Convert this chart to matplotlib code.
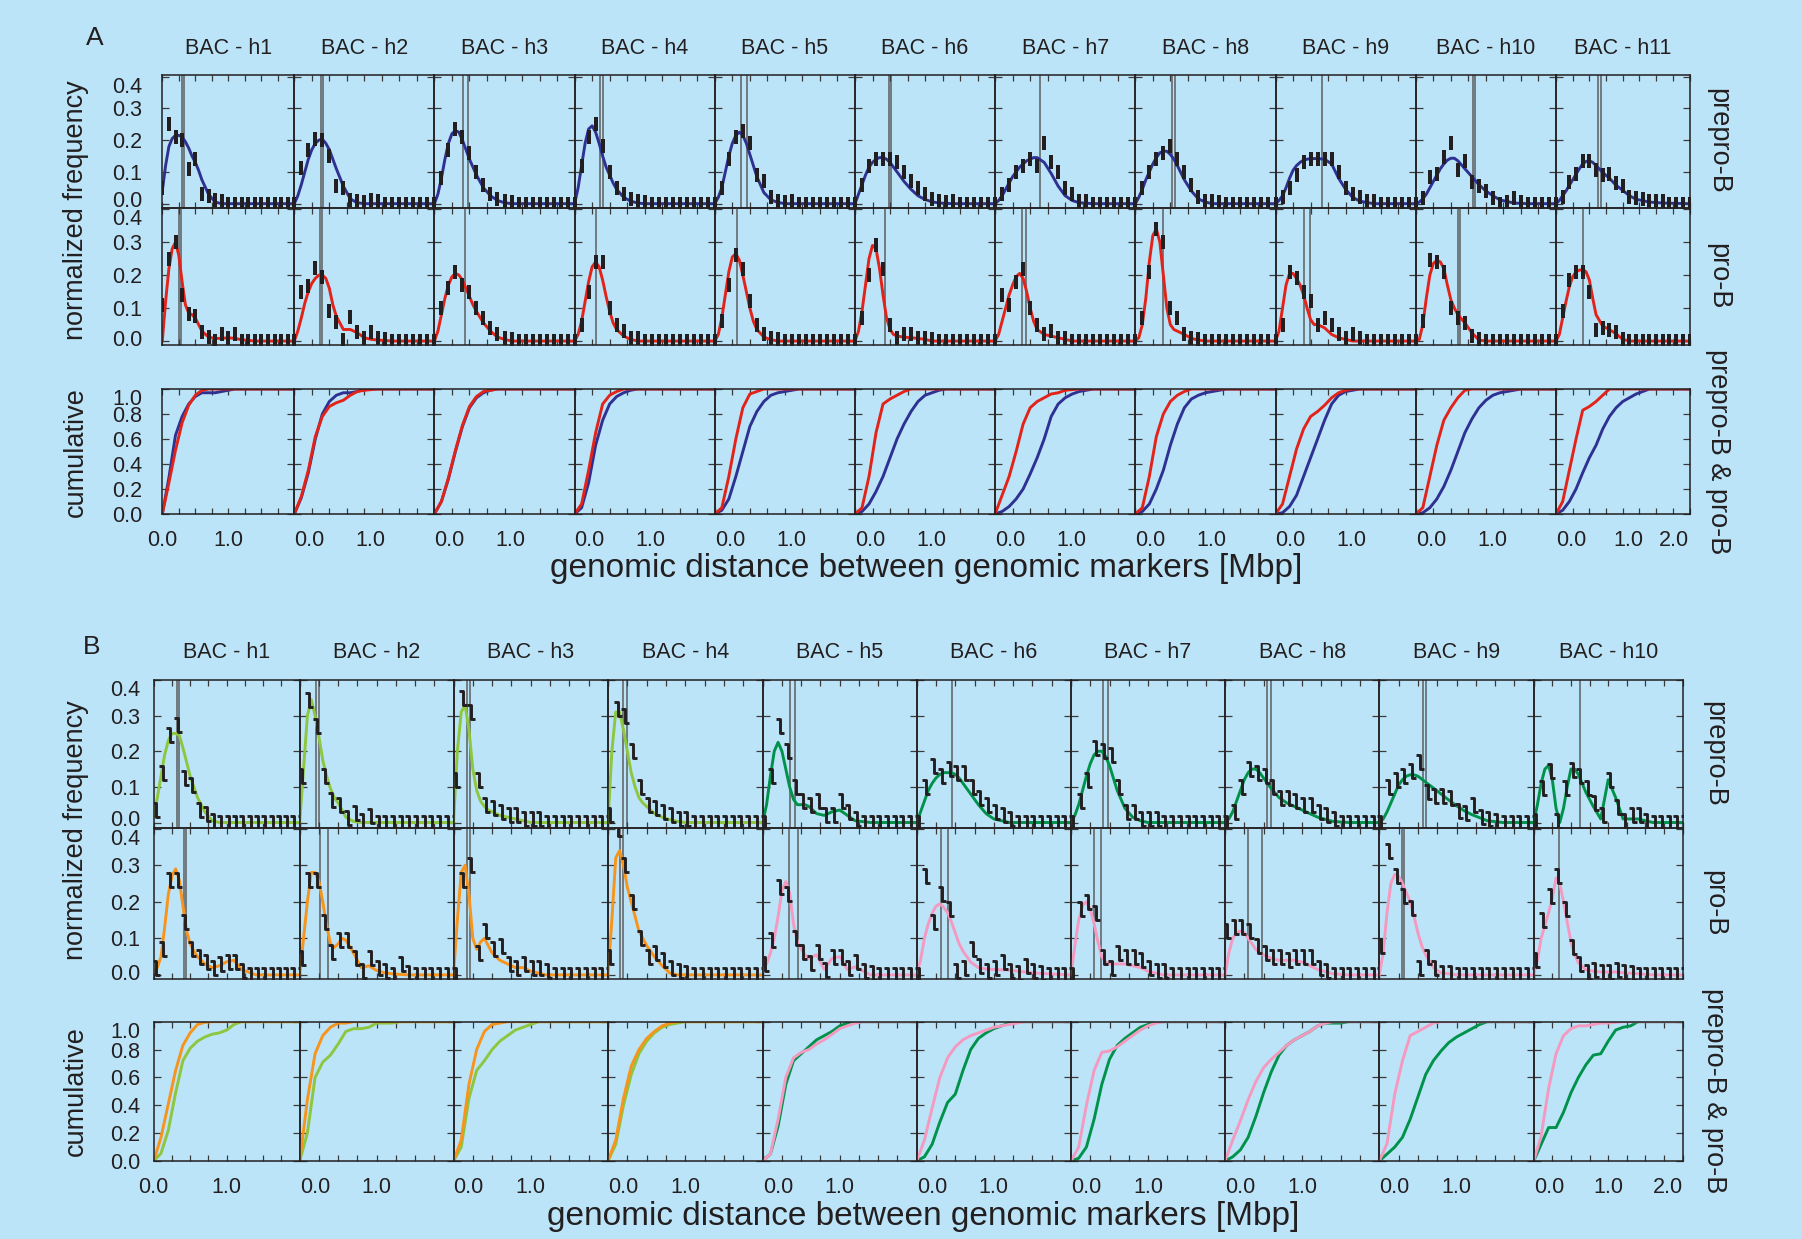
import matplotlib
matplotlib.use("Agg")
import matplotlib.pyplot as plt
from matplotlib.path import Path
from matplotlib.markers import MarkerStyle
from matplotlib.ticker import FixedLocator
from matplotlib.transforms import ScaledTranslation

plt.rcParams['font.family'] = ['Liberation Sans', 'DejaVu Sans']

# ---------------------------------------------------------------- data
BIN_X = [0.0, 0.1, 0.2, 0.3, 0.4, 0.5, 0.6, 0.7, 0.8, 0.9, 1.0,
         1.1, 1.2, 1.3, 1.4, 1.5, 1.6, 1.7, 1.8, 1.9, 2.0]
CUM_X = BIN_X
FIT_X = [0.0, 0.05, 0.1, 0.15, 0.2, 0.25, 0.3, 0.35, 0.4, 0.45, 0.5,
         0.55, 0.6, 0.7, 0.8, 0.9, 1.0, 1.1, 1.2, 1.4, 1.6, 2.0]

A_TITLES = ['BAC - h%d' % k for k in range(1, 12)]
B_TITLES = ['BAC - h%d' % k for k in range(1, 11)]

# panel A, prepro-B histograms (one list per BAC, values at BIN_X)
A_PRE_BARS = [
    [0.05, 0.25, 0.21, 0.20, 0.11, 0.14, 0.03, 0.025, 0.012, 0.007, 0, 0, 0, 0, 0, 0, 0, 0, 0, 0, 0],
    [0, 0.113, 0.17, 0.204, 0.2, 0.15, 0.055, 0.05, 0.013, 0.008, 0.005, 0.013, 0.008, 0, 0, 0, 0, 0, 0, 0, 0],
    [0, 0.08, 0.17, 0.235, 0.21, 0.16, 0.10, 0.06, 0.03, 0.015, 0.01, 0.005, 0, 0, 0, 0, 0, 0, 0, 0, 0],
    [0, 0.12, 0.21, 0.25, 0.18, 0.10, 0.05, 0.03, 0.015, 0.01, 0.005, 0, 0, 0, 0, 0, 0, 0, 0, 0, 0],
    [0, 0.05, 0.14, 0.21, 0.23, 0.19, 0.09, 0.07, 0.02, 0.01, 0.005, 0.01, 0, 0, 0, 0, 0, 0, 0, 0, 0],
    [0, 0.06, 0.12, 0.14, 0.14, 0.14, 0.13, 0.10, 0.07, 0.05, 0.03, 0.015, 0.01, 0.005, 0.01, 0, 0, 0, 0, 0, 0],
    [0, 0.03, 0.06, 0.10, 0.12, 0.14, 0.12, 0.19, 0.13, 0.10, 0.05, 0.03, 0.01, 0.01, 0, 0, 0, 0, 0, 0, 0],
    [0, 0.05, 0.10, 0.14, 0.16, 0.18, 0.14, 0.10, 0.06, 0.02, 0.01, 0.01, 0.005, 0, 0, 0, 0, 0, 0, 0, 0],
    [0, 0.02, 0.05, 0.09, 0.13, 0.14, 0.14, 0.14, 0.14, 0.10, 0.05, 0.03, 0.02, 0.01, 0.01, 0, 0, 0, 0, 0, 0],
    [0, 0.017, 0.084, 0.095, 0.146, 0.19, 0.107, 0.135, 0.067, 0.056, 0.04, 0.017, 0, 0.006, 0.017, 0.005, 0, 0, 0, 0, 0],
    [0, 0.022, 0.067, 0.095, 0.135, 0.135, 0.107, 0.09, 0.093, 0.064, 0.056, 0.02, 0.017, 0.015, 0.008, 0.008, 0.008, 0, 0, 0, 0],
]
# panel A, prepro-B fitted curves (values at FIT_X)
A_PRE_FIT = [
    [0.04, 0.12, 0.18, 0.205, 0.215, 0.215, 0.21, 0.195, 0.175, 0.15, 0.13, 0.105, 0.075, 0.03, 0.005, 0, 0, 0, 0, 0, 0, 0],
    [0, 0.025, 0.06, 0.10, 0.14, 0.17, 0.19, 0.2, 0.203, 0.19, 0.17, 0.14, 0.11, 0.055, 0.015, 0.003, 0, 0, 0, 0, 0, 0],
    [0, 0.03, 0.08, 0.14, 0.19, 0.22, 0.23, 0.225, 0.2, 0.17, 0.14, 0.115, 0.09, 0.05, 0.025, 0.01, 0.003, 0, 0, 0, 0, 0],
    [0, 0.05, 0.12, 0.19, 0.235, 0.245, 0.225, 0.19, 0.15, 0.115, 0.09, 0.065, 0.045, 0.02, 0.008, 0.002, 0, 0, 0, 0, 0, 0],
    [0, 0.02, 0.05, 0.10, 0.15, 0.19, 0.215, 0.225, 0.215, 0.19, 0.155, 0.12, 0.085, 0.035, 0.012, 0.004, 0, 0, 0, 0, 0, 0],
    [0, 0.03, 0.06, 0.09, 0.115, 0.13, 0.14, 0.145, 0.145, 0.14, 0.13, 0.115, 0.10, 0.07, 0.045, 0.025, 0.013, 0.006, 0.002, 0, 0, 0],
    [0, 0.01, 0.025, 0.045, 0.065, 0.085, 0.10, 0.115, 0.125, 0.135, 0.14, 0.145, 0.145, 0.13, 0.095, 0.055, 0.025, 0.01, 0.003, 0, 0, 0],
    [0, 0.02, 0.045, 0.075, 0.10, 0.125, 0.145, 0.16, 0.165, 0.165, 0.155, 0.14, 0.12, 0.075, 0.04, 0.015, 0.005, 0, 0, 0, 0, 0],
    [0, 0.01, 0.025, 0.05, 0.08, 0.105, 0.12, 0.13, 0.137, 0.14, 0.142, 0.142, 0.142, 0.14, 0.125, 0.08, 0.045, 0.02, 0.008, 0, 0, 0],
    [0, 0.005, 0.015, 0.03, 0.05, 0.07, 0.09, 0.11, 0.125, 0.137, 0.143, 0.143, 0.135, 0.11, 0.085, 0.06, 0.04, 0.025, 0.012, 0.002, 0, 0],
    [0, 0.01, 0.025, 0.04, 0.058, 0.075, 0.093, 0.11, 0.125, 0.133, 0.135, 0.13, 0.12, 0.098, 0.08, 0.058, 0.042, 0.025, 0.014, 0.005, 0.002, 0],
]
A_PRE_MARKS = [[0.30, 0.33], [0.38, 0.41], [0.41, 0.48], [0.36, 0.41], [0.38, 0.46], [0.48, 0.52],
               [0.64], [0.52, 0.57], [0.66], [0.81, 0.85], [0.63, 0.67]]

# panel A, pro-B
A_PRO_BARS = [
    [0.11, 0.25, 0.30, 0.14, 0.083, 0.075, 0.028, 0.013, 0, 0.02, 0.01, 0.02, 0, 0, 0, 0, 0, 0, 0, 0, 0],
    [0, 0.148, 0.168, 0.223, 0.193, 0.09, 0.058, 0.003, 0.073, 0.028, 0.008, 0.028, 0.01, 0.005, 0, 0, 0, 0, 0, 0, 0],
    [0, 0.10, 0.16, 0.21, 0.17, 0.15, 0.10, 0.07, 0.04, 0.02, 0.01, 0.005, 0, 0, 0, 0, 0, 0, 0, 0, 0],
    [0, 0.05, 0.15, 0.24, 0.24, 0.10, 0.05, 0.03, 0.01, 0.01, 0, 0, 0, 0, 0, 0, 0, 0, 0, 0, 0],
    [0, 0.06, 0.17, 0.26, 0.22, 0.12, 0.05, 0.02, 0.01, 0.005, 0, 0, 0, 0, 0, 0, 0, 0, 0, 0, 0],
    [0, 0.07, 0.20, 0.29, 0.22, 0.05, 0.01, 0.02, 0.02, 0.01, 0.01, 0.005, 0, 0, 0, 0, 0, 0, 0, 0, 0],
    [0, 0.14, 0.11, 0.18, 0.22, 0.10, 0.05, 0.02, 0.03, 0.01, 0.01, 0, 0, 0, 0, 0, 0, 0, 0, 0, 0],
    [0, 0.07, 0.21, 0.34, 0.30, 0.10, 0.07, 0.02, 0.01, 0.005, 0, 0, 0, 0, 0, 0, 0, 0, 0, 0, 0],
    [0, 0.05, 0.21, 0.19, 0.15, 0.12, 0.05, 0.07, 0.05, 0.02, 0.01, 0.02, 0.01, 0, 0, 0, 0, 0, 0, 0, 0],
    [0, 0.06, 0.245, 0.24, 0.21, 0.10, 0.07, 0.054, 0.016, 0.005, 0, 0, 0, 0, 0, 0, 0, 0, 0, 0, 0],
    [0, 0.092, 0.185, 0.21, 0.21, 0.15, 0.033, 0.04, 0.033, 0.027, 0.005, 0, 0, 0, 0, 0, 0, 0, 0, 0, 0],
]
A_PRO_FIT = [
    [0, 0.12, 0.22, 0.28, 0.30, 0.26, 0.18, 0.11, 0.085, 0.08, 0.07, 0.05, 0.03, 0.012, 0.008, 0.008, 0.01, 0.008, 0.004, 0, 0, 0],
    [0, 0.03, 0.07, 0.115, 0.15, 0.175, 0.19, 0.2, 0.2, 0.19, 0.16, 0.11, 0.075, 0.035, 0.035, 0.025, 0.01, 0.005, 0.003, 0, 0, 0],
    [0, 0.03, 0.08, 0.13, 0.17, 0.195, 0.205, 0.2, 0.185, 0.16, 0.135, 0.11, 0.09, 0.055, 0.03, 0.012, 0.005, 0, 0, 0, 0, 0],
    [0, 0.02, 0.06, 0.12, 0.18, 0.225, 0.24, 0.225, 0.185, 0.135, 0.09, 0.055, 0.035, 0.015, 0.005, 0, 0, 0, 0, 0, 0, 0],
    [0, 0.02, 0.07, 0.14, 0.21, 0.255, 0.265, 0.245, 0.2, 0.15, 0.10, 0.06, 0.035, 0.012, 0.004, 0, 0, 0, 0, 0, 0, 0],
    [0, 0.03, 0.09, 0.17, 0.25, 0.29, 0.28, 0.22, 0.14, 0.07, 0.035, 0.02, 0.015, 0.012, 0.01, 0.008, 0.005, 0, 0, 0, 0, 0],
    [0, 0.02, 0.06, 0.10, 0.14, 0.17, 0.195, 0.205, 0.19, 0.15, 0.10, 0.06, 0.035, 0.02, 0.015, 0.01, 0.005, 0, 0, 0, 0, 0],
    [0, 0.01, 0.05, 0.13, 0.24, 0.32, 0.34, 0.30, 0.20, 0.10, 0.05, 0.035, 0.03, 0.02, 0.008, 0.003, 0, 0, 0, 0, 0, 0],
    [0, 0.03, 0.10, 0.17, 0.205, 0.205, 0.19, 0.17, 0.14, 0.10, 0.065, 0.05, 0.05, 0.04, 0.02, 0.01, 0.005, 0, 0, 0, 0, 0],
    [0, 0.005, 0.05, 0.13, 0.20, 0.235, 0.245, 0.24, 0.22, 0.17, 0.125, 0.10, 0.08, 0.055, 0.025, 0.003, 0, 0, 0, 0, 0, 0],
    [0, 0.02, 0.07, 0.12, 0.165, 0.195, 0.21, 0.215, 0.217, 0.21, 0.185, 0.13, 0.08, 0.045, 0.035, 0.022, 0.005, 0, 0, 0, 0, 0],
]
A_PRO_MARKS = [[0.25, 0.29], [0.36, 0.40], [0.43], [0.31], [0.31], [0.43],
               [0.39, 0.44], [0.39], [0.41, 0.49], [0.60, 0.63], [0.41]]

# panel A, cumulative curves (values at CUM_X)
A_PRE_CUM = [
    [0, 0.29, 0.63, 0.78, 0.88, 0.94, 0.97, 0.97, 0.97, 0.98, 0.99, 1, 1, 1, 1, 1, 1, 1, 1, 1, 1],
    [0, 0.13, 0.33, 0.60, 0.80, 0.90, 0.95, 0.97, 0.97, 0.98, 1, 1, 1, 1, 1, 1, 1, 1, 1, 1, 1],
    [0, 0.10, 0.28, 0.50, 0.70, 0.85, 0.93, 0.97, 0.99, 1, 1, 1, 1, 1, 1, 1, 1, 1, 1, 1, 1],
    [0, 0.05, 0.25, 0.55, 0.75, 0.88, 0.94, 0.97, 0.99, 1, 1, 1, 1, 1, 1, 1, 1, 1, 1, 1, 1],
    [0, 0.03, 0.12, 0.30, 0.50, 0.70, 0.82, 0.90, 0.95, 0.97, 0.98, 0.99, 1, 1, 1, 1, 1, 1, 1, 1, 1],
    [0, 0.02, 0.08, 0.18, 0.30, 0.45, 0.60, 0.72, 0.82, 0.90, 0.95, 0.97, 0.99, 1, 1, 1, 1, 1, 1, 1, 1],
    [0, 0.02, 0.06, 0.12, 0.20, 0.32, 0.45, 0.60, 0.78, 0.88, 0.93, 0.96, 0.98, 0.99, 1, 1, 1, 1, 1, 1, 1],
    [0, 0.02, 0.08, 0.20, 0.35, 0.55, 0.72, 0.85, 0.92, 0.95, 0.97, 0.98, 0.99, 1, 1, 1, 1, 1, 1, 1, 1],
    [0, 0.01, 0.06, 0.15, 0.30, 0.45, 0.60, 0.75, 0.88, 0.95, 0.98, 0.99, 1, 1, 1, 1, 1, 1, 1, 1, 1],
    [0, 0.01, 0.05, 0.12, 0.22, 0.35, 0.50, 0.65, 0.76, 0.85, 0.91, 0.95, 0.97, 0.98, 0.99, 1, 1, 1, 1, 1, 1],
    [0, 0.03, 0.10, 0.20, 0.33, 0.45, 0.55, 0.68, 0.78, 0.85, 0.90, 0.93, 0.96, 0.98, 1, 1, 1, 1, 1, 1, 1],
]
A_PRO_CUM = [
    [0, 0.25, 0.51, 0.73, 0.87, 0.95, 0.99, 1, 1, 1, 1, 1, 1, 1, 1, 1, 1, 1, 1, 1, 1],
    [0, 0.14, 0.35, 0.62, 0.78, 0.86, 0.89, 0.91, 0.95, 0.98, 0.99, 0.995, 1, 1, 1, 1, 1, 1, 1, 1, 1],
    [0, 0.10, 0.29, 0.51, 0.71, 0.86, 0.94, 0.98, 0.99, 1, 1, 1, 1, 1, 1, 1, 1, 1, 1, 1, 1],
    [0, 0.08, 0.35, 0.65, 0.88, 0.95, 0.98, 1, 1, 1, 1, 1, 1, 1, 1, 1, 1, 1, 1, 1, 1],
    [0, 0.05, 0.30, 0.60, 0.85, 0.96, 0.98, 1, 1, 1, 1, 1, 1, 1, 1, 1, 1, 1, 1, 1, 1],
    [0, 0.05, 0.30, 0.65, 0.88, 0.92, 0.95, 0.98, 1, 1, 1, 1, 1, 1, 1, 1, 1, 1, 1, 1, 1],
    [0, 0.15, 0.30, 0.50, 0.72, 0.85, 0.90, 0.93, 0.96, 0.97, 0.99, 0.995, 1, 1, 1, 1, 1, 1, 1, 1, 1],
    [0, 0.05, 0.30, 0.62, 0.80, 0.90, 0.95, 0.98, 1, 1, 1, 1, 1, 1, 1, 1, 1, 1, 1, 1, 1],
    [0, 0.08, 0.30, 0.52, 0.68, 0.78, 0.82, 0.87, 0.93, 0.97, 0.99, 1, 1, 1, 1, 1, 1, 1, 1, 1, 1],
    [0, 0.05, 0.30, 0.55, 0.75, 0.85, 0.93, 0.99, 1, 1, 1, 1, 1, 1, 1, 1, 1, 1, 1, 1, 1],
    [0, 0.10, 0.35, 0.60, 0.83, 0.86, 0.90, 0.95, 1, 1, 1, 1, 1, 1, 1, 1, 1, 1, 1, 1, 1],
]

# panel B, prepro-B
B_PRE_BARS = [
    [0.035, 0.14, 0.245, 0.275, 0.125, 0.105, 0.035, 0.025, 0.005, 0, 0, 0, 0, 0, 0, 0, 0, 0, 0, 0, 0],
    [0.13, 0.344, 0.27, 0.13, 0.064, 0.05, 0.012, 0.026, 0.003, 0.017, 0, 0, 0, 0, 0, 0, 0, 0, 0, 0, 0],
    [0.12, 0.35, 0.31, 0.12, 0.05, 0.04, 0.03, 0.02, 0.02, 0.01, 0.01, 0.01, 0, 0, 0, 0, 0, 0, 0, 0, 0],
    [0.02, 0.32, 0.30, 0.20, 0.10, 0.05, 0.04, 0.03, 0.02, 0.01, 0.01, 0, 0, 0, 0, 0, 0, 0, 0, 0, 0],
    [0, 0.13, 0.27, 0.20, 0.10, 0.06, 0.05, 0.06, 0.02, 0.02, 0.06, 0.03, 0.01, 0, 0, 0, 0, 0, 0, 0, 0],
    [0, 0.10, 0.16, 0.13, 0.15, 0.14, 0.14, 0.10, 0.07, 0.05, 0.03, 0.02, 0.01, 0, 0, 0, 0, 0, 0, 0, 0],
    [0, 0.06, 0.12, 0.21, 0.20, 0.19, 0.10, 0.03, 0.03, 0.01, 0.01, 0.01, 0, 0, 0, 0, 0, 0, 0, 0, 0],
    [0, 0.03, 0.10, 0.15, 0.14, 0.13, 0.10, 0.07, 0.07, 0.06, 0.05, 0.05, 0.03, 0.02, 0.01, 0, 0, 0, 0, 0, 0],
    [0, 0.10, 0.12, 0.13, 0.145, 0.17, 0.086, 0.075, 0.075, 0.07, 0.032, 0.027, 0.048, 0.016, 0.01, 0.005, 0, 0, 0, 0, 0],
    [0.005, 0.097, 0.145, 0.005, 0.097, 0.148, 0.13, 0.097, 0.054, 0.02, 0.12, 0.043, 0.005, 0.02, 0.022, 0.005, 0, 0, 0, 0, 0],
]
B_PRE_FIT = [
    [0.015, 0.07, 0.13, 0.19, 0.23, 0.25, 0.25, 0.245, 0.21, 0.17, 0.13, 0.10, 0.07, 0.03, 0.005, 0, 0, 0, 0, 0, 0, 0],
    [0, 0.15, 0.30, 0.345, 0.30, 0.24, 0.175, 0.13, 0.095, 0.07, 0.055, 0.035, 0.015, 0.003, 0, 0, 0, 0, 0, 0, 0, 0],
    [0, 0.20, 0.31, 0.33, 0.26, 0.15, 0.09, 0.06, 0.045, 0.035, 0.03, 0.025, 0.02, 0.015, 0.01, 0.005, 0, 0, 0, 0, 0, 0],
    [0, 0.20, 0.31, 0.31, 0.26, 0.20, 0.14, 0.10, 0.07, 0.055, 0.045, 0.035, 0.025, 0.015, 0.008, 0.003, 0, 0, 0, 0, 0, 0],
    [0, 0.05, 0.13, 0.20, 0.225, 0.20, 0.15, 0.10, 0.065, 0.05, 0.05, 0.05, 0.045, 0.025, 0.02, 0.03, 0.035, 0.02, 0.005, 0, 0, 0],
    [0, 0.03, 0.06, 0.09, 0.11, 0.125, 0.135, 0.14, 0.14, 0.14, 0.135, 0.125, 0.11, 0.08, 0.05, 0.025, 0.01, 0.005, 0, 0, 0, 0],
    [0, 0.02, 0.05, 0.09, 0.13, 0.165, 0.19, 0.20, 0.20, 0.185, 0.16, 0.125, 0.09, 0.04, 0.015, 0.005, 0, 0, 0, 0, 0, 0],
    [0, 0.01, 0.03, 0.06, 0.09, 0.12, 0.14, 0.15, 0.15, 0.14, 0.125, 0.11, 0.095, 0.07, 0.055, 0.045, 0.035, 0.025, 0.015, 0.003, 0, 0],
    [0, 0.01, 0.03, 0.055, 0.08, 0.105, 0.12, 0.13, 0.134, 0.134, 0.13, 0.122, 0.113, 0.097, 0.08, 0.063, 0.047, 0.033, 0.022, 0.005, 0, 0],
    [0, 0.05, 0.11, 0.15, 0.16, 0.12, 0.04, 0.0, 0.04, 0.10, 0.15, 0.15, 0.135, 0.085, 0.045, 0.01, 0.12, 0.07, 0.01, 0.01, 0, 0],
]
B_PRE_MARKS = [[0.32, 0.34], [0.21, 0.25], [0.18, 0.22], [0.19, 0.24], [0.36, 0.42],
               [0.46], [0.42, 0.48], [0.54, 0.60], [0.57, 0.60], [0.62]]

# panel B, pro-B
B_PRO_BARS = [
    [0.02, 0.07, 0.26, 0.26, 0.145, 0.07, 0.05, 0.036, 0.02, 0.03, 0.036, 0.036, 0.01, 0, 0, 0, 0, 0, 0, 0, 0],
    [0.045, 0.26, 0.26, 0.145, 0.063, 0.095, 0.095, 0.045, 0.01, 0.045, 0.02, 0.01, 0, 0.03, 0.005, 0, 0, 0, 0, 0, 0],
    [0, 0.26, 0.30, 0.06, 0.12, 0.07, 0.08, 0.03, 0.02, 0.03, 0.02, 0.02, 0.01, 0, 0, 0, 0, 0, 0, 0, 0],
    [0.05, 0.40, 0.30, 0.20, 0.10, 0.05, 0.06, 0.04, 0.02, 0.01, 0.005, 0, 0, 0, 0, 0, 0, 0, 0, 0, 0],
    [0.03, 0.095, 0.24, 0.22, 0.10, 0.064, 0.032, 0.064, 0.014, 0.05, 0.05, 0.018, 0.036, 0.01, 0.005, 0, 0, 0, 0, 0, 0],
    [0, 0.27, 0.145, 0.22, 0.18, 0.01, 0.02, 0.07, 0.023, 0.01, 0.02, 0.036, 0.01, 0.005, 0.023, 0.01, 0.005, 0, 0, 0, 0],
    [0, 0.18, 0.20, 0.17, 0.05, 0.02, 0.06, 0.05, 0.05, 0.04, 0.02, 0.01, 0.01, 0, 0, 0, 0, 0, 0, 0, 0],
    [0.12, 0.13, 0.13, 0.12, 0.08, 0.06, 0.05, 0.05, 0.04, 0.05, 0.05, 0.05, 0.02, 0.01, 0, 0, 0, 0, 0, 0, 0],
    [0.08, 0.34, 0.27, 0.215, 0.183, 0.02, 0.05, 0.02, 0.005, 0.005, 0, 0, 0, 0, 0, 0, 0, 0, 0, 0, 0],
    [0.04, 0.15, 0.215, 0.27, 0.18, 0.077, 0.03, 0.008, 0.014, 0.008, 0.008, 0.014, 0.008, 0.005, 0, 0, 0, 0, 0, 0, 0],
]
B_PRO_FIT = [
    [0.01, 0.02, 0.05, 0.13, 0.22, 0.27, 0.29, 0.26, 0.19, 0.12, 0.085, 0.065, 0.05, 0.03, 0.02, 0.025, 0.036, 0.04, 0.015, 0, 0, 0],
    [0, 0.10, 0.20, 0.28, 0.28, 0.255, 0.20, 0.135, 0.085, 0.075, 0.085, 0.10, 0.095, 0.06, 0.02, 0.025, 0.012, 0.006, 0.003, 0, 0, 0],
    [0, 0.15, 0.28, 0.30, 0.22, 0.10, 0.07, 0.09, 0.10, 0.08, 0.06, 0.05, 0.04, 0.03, 0.02, 0.02, 0.01, 0.005, 0, 0, 0, 0],
    [0, 0.15, 0.32, 0.34, 0.30, 0.24, 0.20, 0.16, 0.12, 0.10, 0.08, 0.065, 0.05, 0.025, 0.005, 0, 0, 0, 0, 0, 0, 0],
    [0.01, 0.03, 0.06, 0.10, 0.16, 0.23, 0.255, 0.225, 0.14, 0.09, 0.07, 0.055, 0.045, 0.055, 0.015, 0.045, 0.05, 0.015, 0.022, 0, 0, 0],
    [0.005, 0.04, 0.10, 0.14, 0.168, 0.188, 0.194, 0.185, 0.17, 0.145, 0.115, 0.085, 0.065, 0.035, 0.02, 0.016, 0.015, 0.014, 0.013, 0.008, 0.004, 0],
    [0, 0.08, 0.15, 0.19, 0.20, 0.18, 0.14, 0.09, 0.05, 0.035, 0.03, 0.03, 0.03, 0.03, 0.025, 0.02, 0.01, 0.005, 0, 0, 0, 0],
    [0, 0.06, 0.10, 0.115, 0.12, 0.115, 0.10, 0.085, 0.07, 0.06, 0.055, 0.05, 0.045, 0.04, 0.04, 0.04, 0.035, 0.025, 0.015, 0.003, 0, 0],
    [0, 0.06, 0.17, 0.25, 0.275, 0.27, 0.25, 0.225, 0.20, 0.16, 0.115, 0.08, 0.055, 0.02, 0.005, 0.003, 0, 0, 0, 0, 0, 0],
    [0, 0.04, 0.10, 0.135, 0.17, 0.21, 0.265, 0.25, 0.20, 0.145, 0.09, 0.055, 0.033, 0.014, 0.01, 0.008, 0.008, 0.008, 0.006, 0.003, 0, 0],
]
B_PRO_MARKS = [[0.41, 0.44], [0.26, 0.37], [0.18, 0.22], [0.16, 0.20], [0.34, 0.46],
               [0.32, 0.41], [0.30, 0.39], [0.30, 0.48], [0.29, 0.32], [0.34]]

B_PRE_CUM = [
    [0, 0.055, 0.22, 0.49, 0.72, 0.81, 0.86, 0.89, 0.91, 0.92, 0.94, 0.98, 1, 1, 1, 1, 1, 1, 1, 1, 1],
    [0, 0.20, 0.60, 0.71, 0.76, 0.84, 0.93, 0.95, 0.95, 0.96, 0.99, 0.99, 0.99, 1, 1, 1, 1, 1, 1, 1, 1],
    [0, 0.10, 0.45, 0.65, 0.72, 0.80, 0.86, 0.90, 0.94, 0.96, 0.98, 1, 1, 1, 1, 1, 1, 1, 1, 1, 1],
    [0, 0.12, 0.40, 0.62, 0.77, 0.86, 0.92, 0.96, 0.98, 0.99, 1, 1, 1, 1, 1, 1, 1, 1, 1, 1, 1],
    [0, 0.05, 0.25, 0.55, 0.72, 0.77, 0.82, 0.87, 0.90, 0.93, 0.97, 0.99, 1, 1, 1, 1, 1, 1, 1, 1, 1],
    [0, 0.03, 0.12, 0.28, 0.42, 0.48, 0.65, 0.80, 0.88, 0.92, 0.95, 0.97, 0.99, 1, 1, 1, 1, 1, 1, 1, 1],
    [0, 0.02, 0.10, 0.30, 0.55, 0.73, 0.83, 0.88, 0.92, 0.96, 0.98, 1, 1, 1, 1, 1, 1, 1, 1, 1, 1],
    [0, 0.03, 0.08, 0.17, 0.32, 0.49, 0.64, 0.76, 0.83, 0.87, 0.90, 0.93, 0.97, 0.99, 0.99, 0.99, 1, 1, 1, 1, 1],
    [0, 0.05, 0.10, 0.17, 0.30, 0.46, 0.62, 0.72, 0.79, 0.85, 0.89, 0.92, 0.95, 0.98, 1, 1, 1, 1, 1, 1, 1],
    [0, 0.12, 0.24, 0.24, 0.35, 0.49, 0.60, 0.69, 0.76, 0.77, 0.86, 0.94, 0.96, 0.97, 1, 1, 1, 1, 1, 1, 1],
]
B_PRO_CUM = [
    [0, 0.17, 0.41, 0.65, 0.83, 0.92, 0.98, 0.995, 1, 1, 1, 1, 1, 1, 1, 1, 1, 1, 1, 1, 1],
    [0, 0.44, 0.77, 0.90, 0.96, 0.99, 0.99, 1, 1, 1, 1, 1, 1, 1, 1, 1, 1, 1, 1, 1, 1],
    [0, 0.15, 0.55, 0.80, 0.93, 0.98, 0.99, 1, 1, 1, 1, 1, 1, 1, 1, 1, 1, 1, 1, 1, 1],
    [0, 0.15, 0.45, 0.68, 0.80, 0.88, 0.93, 0.97, 0.99, 1, 1, 1, 1, 1, 1, 1, 1, 1, 1, 1, 1],
    [0, 0.05, 0.30, 0.60, 0.74, 0.78, 0.80, 0.84, 0.87, 0.91, 0.95, 0.97, 0.99, 1, 1, 1, 1, 1, 1, 1, 1],
    [0, 0.15, 0.38, 0.60, 0.74, 0.82, 0.87, 0.90, 0.92, 0.94, 0.96, 0.97, 0.98, 0.99, 1, 1, 1, 1, 1, 1, 1],
    [0, 0.10, 0.40, 0.65, 0.78, 0.79, 0.82, 0.86, 0.90, 0.94, 0.97, 0.99, 1, 1, 1, 1, 1, 1, 1, 1, 1],
    [0, 0.15, 0.29, 0.44, 0.57, 0.67, 0.73, 0.78, 0.83, 0.87, 0.90, 0.93, 0.97, 0.99, 1, 1, 1, 1, 1, 1, 1],
    [0, 0.125, 0.48, 0.72, 0.90, 0.93, 0.96, 0.99, 1, 1, 1, 1, 1, 1, 1, 1, 1, 1, 1, 1, 1],
    [0, 0.18, 0.52, 0.77, 0.90, 0.95, 0.97, 0.97, 0.98, 0.99, 0.99, 0.995, 1, 1, 1, 1, 1, 1, 1, 1, 1],
]

# ---------------------------------------------------------------- style
BG = '#bce4f8'
INK = '#231f20'
GRAY = '#6f7a80'
BLUE, RED = '#2e3192', '#e2231a'
LIME, ORANGE = '#8dc63f', '#f7941d'
GREEN, PINK = '#00924a', '#f49ac1'

W, H = 1802, 1239
fig = plt.figure(figsize=(W / 100, H / 100), dpi=100, facecolor=BG)

RECT = Path([(-0.33, -1), (0.33, -1), (0.33, 1), (-0.33, 1), (-0.33, -1)],
            [Path.MOVETO, Path.LINETO, Path.LINETO, Path.LINETO, Path.CLOSEPOLY])
# step-shaped glyph used for the panel B histograms (stem slightly right of the bin)
HOOK = Path([(-0.3, 1), (0.3, 1), (0.3, -1), (0.9, -1)])
RECT_KW = dict(marker=RECT, ms=9.4, mfc=INK, mec=INK, mew=0)
HOOK_KW = dict(marker=MarkerStyle(HOOK, joinstyle='miter', capstyle='butt'),
               ms=9.4, mfc='none', mec=INK, mew=2.1)


def px_shift(dx, dy):
    return ScaledTranslation(dx / 100, dy / 100, fig.dpi_scale_trans)


def add_ax(x0, x1, y0, y1):
    ax = fig.add_axes([x0 / W, 1 - y1 / H, (x1 - x0) / W, (y1 - y0) / H])
    ax.set_facecolor('none')
    return ax


def frame(ax, first, last, ylim, yticks, kind, ypad, one_shift):
    # kind: 'pre', 'pro' or 'cum'
    ax.set_xlim(0, 2)
    ax.set_ylim(*ylim)
    for sp in ax.spines.values():
        sp.set_linewidth(1.1)
        sp.set_color(INK)
    ax.set_xticks([0, 1, 2])
    ax.xaxis.set_minor_locator(FixedLocator([0.25, 0.5, 0.75, 1.25, 1.5, 1.75]))
    ax.set_yticks(yticks)
    ax.tick_params(which='both', direction='in', top=True, right=True,
                   width=0.9, color='#3a3a3a', labelsize=15.5, labelcolor=INK)
    ax.tick_params(axis='x', which='both', length=4.5, pad=11.5)
    ax.tick_params(axis='y', which='major', length=5, pad=ypad)
    if kind == 'cum':
        ax.set_xticklabels(['0.0', '1.0', '2.0' if last else ''])
        lab = ax.get_xticklabels()
        if not first:
            lab[0].set_ha('left')
            if one_shift:
                lab[1].set_transform(lab[1].get_transform() + px_shift(one_shift, 0))
        lab[2].set_ha('right')
    else:
        ax.tick_params(axis='x', labelbottom=False)
    if first:
        ax.set_yticklabels(['%.1f' % t for t in yticks])
        lab = ax.get_yticklabels()
        lab[-1].set_va('top')
        if kind == 'pre':
            lab[0].set_transform(lab[0].get_transform() + px_shift(0, 5))
        elif kind == 'pro':
            lab[0].set_transform(lab[0].get_transform() + px_shift(0, 3))
    else:
        ax.tick_params(axis='y', labelleft=False)


def draw_panel(cols, rows, cum_row, titles, pre, pro, pre_cum, pro_cum,
               pre_colors, pro_colors, marker_kw, ylims, ypad, one_shift, title_y):
    n = len(titles)
    for i in range(n):
        x0, x1 = cols[i], cols[i + 1]
        first, last = i == 0, i == n - 1
        series = [('pre', pre[0][i], pre[1][i], pre[2][i], pre_colors[i]),
                  ('pro', pro[0][i], pro[1][i], pro[2][i], pro_colors[i])]
        for r, (kind, bars, fit, marks, color) in enumerate(series):
            ax = add_ax(x0, x1, *rows[r])
            for m in marks:
                ax.axvline(m, color=GRAY, lw=1.4, zorder=1)
            ax.plot(FIT_X, fit, color=color, lw=2.1, zorder=2)
            ax.plot(BIN_X, bars, ls='none', zorder=3, **marker_kw)
            frame(ax, first, last, ylims[r], [0, 0.1, 0.2, 0.3, 0.4], kind, ypad, one_shift)
        ax = add_ax(x0, x1, *cum_row)
        ax.plot(CUM_X, pre_cum[i], color=pre_colors[i], lw=2.1)
        ax.plot(CUM_X, pro_cum[i], color=pro_colors[i], lw=2.1)
        frame(ax, first, last, (0, 1), [0, 0.2, 0.4, 0.6, 0.8, 1.0], 'cum', ypad, one_shift)
        fig.text((x0 + x1) / 2 / W, 1 - title_y / H, titles[i], ha='center', va='center',
                 fontsize=15.5, color=INK)


def fig_text(x, y, s, **kw):
    fig.text(x / W, 1 - y / H, s, ha='center', va='center', color=INK, **kw)


# ---------------------------------------------------------------- panel A
A_COLS = [162.3, 294.3, 434.4, 574.6, 714.8, 855.0, 995.1, 1135.3, 1275.5, 1415.8, 1556.0, 1689.5]
draw_panel(A_COLS, [(75, 207.5), (207.5, 345)], (389, 514), A_TITLES,
           (A_PRE_BARS, A_PRE_FIT, A_PRE_MARKS), (A_PRO_BARS, A_PRO_FIT, A_PRO_MARKS),
           A_PRE_CUM, A_PRO_CUM, [BLUE] * 11, [RED] * 11, RECT_KW,
           [(-0.012, 0.405), (-0.012, 0.405)], 14.4, 6, 48)
fig_text(95, 38, 'A', fontsize=19)
fig_text(76, 210, 'normalized frequency', rotation=90, fontsize=19.5)
fig_text(76, 452, 'cumulative', rotation=90, fontsize=19.5)
fig_text(926, 569, 'genomic distance between genomic markers [Mbp]', fontsize=24)
fig_text(1718, 141, 'prepro-B', rotation=-90, fontsize=19.5)
fig_text(1718, 276, 'pro-B', rotation=-90, fontsize=19.5)
fig_text(1718, 452, 'prepro-B & pro-B', rotation=-90, fontsize=19.5)

# ---------------------------------------------------------------- panel B
B_COLS = [153.7, 299.7, 453.5, 608.0, 762.7, 916.7, 1071.0, 1225.0, 1379.3, 1533.7, 1682.7]
draw_panel(B_COLS, [(680, 827.5), (827.5, 979.3)], (1021.7, 1161), B_TITLES,
           (B_PRE_BARS, B_PRE_FIT, B_PRE_MARKS), (B_PRO_BARS, B_PRO_FIT, B_PRO_MARKS),
           B_PRE_CUM, B_PRO_CUM, [LIME] * 4 + [GREEN] * 6, [ORANGE] * 4 + [PINK] * 6, HOOK_KW,
           [(-0.014, 0.40), (-0.012, 0.403)], 9.9, 0, 652)
fig_text(92, 647, 'B', fontsize=19)
fig_text(76, 830, 'normalized frequency', rotation=90, fontsize=19.5)
fig_text(76, 1091, 'cumulative', rotation=90, fontsize=19.5)
fig_text(923, 1216, 'genomic distance between genomic markers [Mbp]', fontsize=24)
fig_text(1714, 754, 'prepro-B', rotation=-90, fontsize=19.5)
fig_text(1714, 903, 'pro-B', rotation=-90, fontsize=19.5)
fig_text(1714, 1091, 'prepro-B & pro-B', rotation=-90, fontsize=19.5)

fig.savefig('out.png', dpi=100, facecolor=BG)
